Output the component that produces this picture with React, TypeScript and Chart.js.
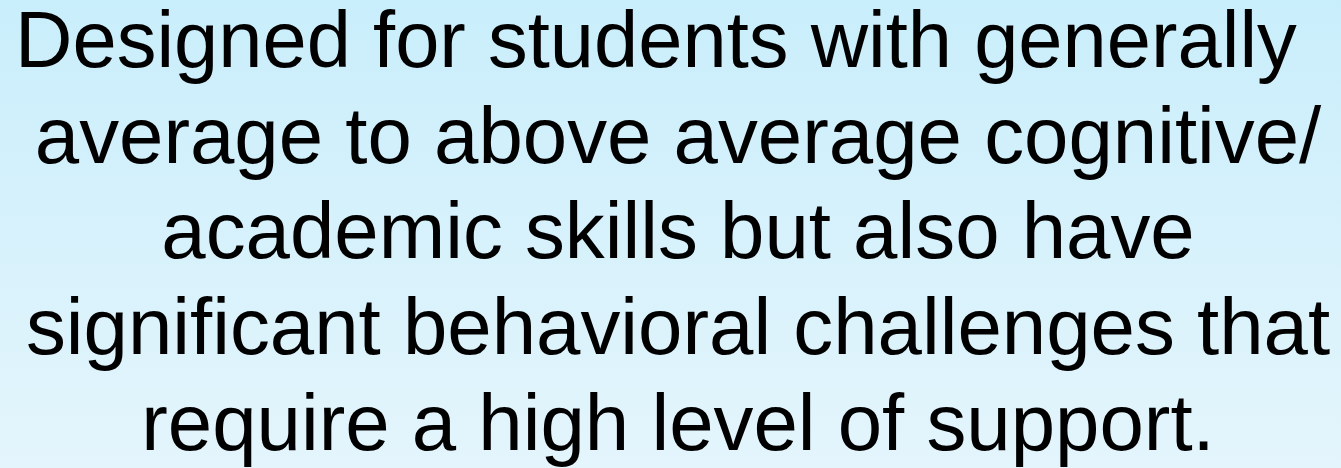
import React, { useEffect, useRef } from "react";
import { Chart, registerables } from "chart.js";

Chart.register(...registerables);

const textLines = [
  "Designed for students with generally  ",
  "average to above average cognitive/",
  "academic skills but also have",
  "significant behavioral challenges that",
  "require a high level of support.",
];
const categories: string[] = [];
const values: number[] = [];

const bgPlugin = {
  id: "bgGradient",
  beforeDraw(chart: any) {
    const { ctx, width, height } = chart;
    const g = ctx.createLinearGradient(0, 0, 0, height);
    g.addColorStop(0, "#c9eefb");
    g.addColorStop(1, "#e4f5fc");
    ctx.save();
    ctx.fillStyle = g;
    ctx.fillRect(0, 0, width, height);
    ctx.restore();
  },
};

export default function App() {
  const ref = useRef<HTMLCanvasElement>(null);
  useEffect(() => {
    document.body.style.margin = "0";
    const chart = new Chart(ref.current!, {
      type: "bar",
      data: { labels: categories, datasets: [{ data: values }] },
      options: {
        animation: false,
        responsive: false,
        layout: { padding: { left: 15, right: 0, top: 0, bottom: 0 } },
        scales: { x: { display: false }, y: { display: false } },
        plugins: {
          legend: { display: false },
          tooltip: { enabled: false },
          title: {
            display: true,
            text: textLines,
            color: "#000000",
            align: "center",
            font: { family: "'Liberation Sans', Arial, sans-serif", size: 79.8, weight: "normal", lineHeight: 1.2 },
            padding: { top: -3, bottom: 0 },
          },
        },
      },
      plugins: [bgPlugin],
    });
    return () => chart.destroy();
  }, []);
  return (
    <div style={{ width: 1341, height: 468 }}>
      <canvas ref={ref} width={1341} height={468} style={{ display: "block" }} />
    </div>
  );
}
